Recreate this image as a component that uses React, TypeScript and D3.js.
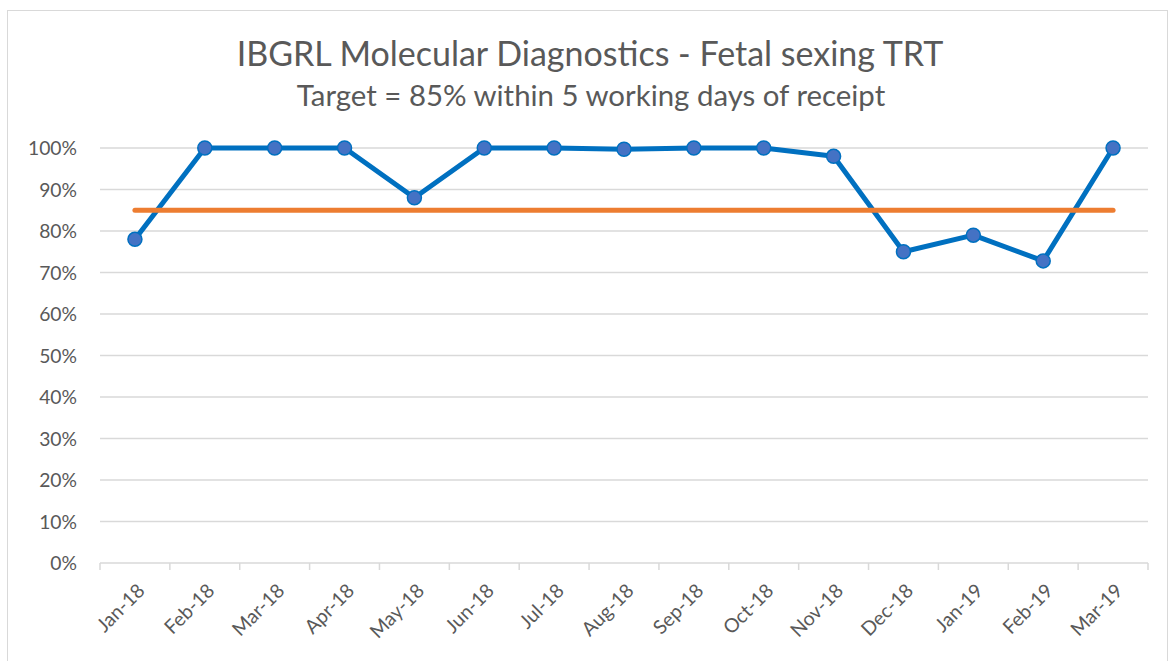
import React from "react";
import * as d3 from "d3";

const categories = ["Jan-18","Feb-18","Mar-18","Apr-18","May-18","Jun-18","Jul-18","Aug-18","Sep-18","Oct-18","Nov-18","Dec-18","Jan-19","Feb-19","Mar-19"];
const actual = [78, 100, 100, 100, 88, 100, 100, 99.7, 100, 100, 98, 75, 79, 72.8, 100];
const target = [85, 85, 85, 85, 85, 85, 85, 85, 85, 85, 85, 85, 85, 85, 85];
const yTicks = [0, 10, 20, 30, 40, 50, 60, 70, 80, 90, 100];

const W = 1170, H = 661;
const left = 100, right = 1148, top = 148, bottom = 563;
const font = "Lato, 'Open Sans', 'Liberation Sans', sans-serif";

export default function App() {
  const x = d3.scaleBand<string>().domain(categories).range([left, right]).paddingInner(0).paddingOuter(0);
  const y = d3.scaleLinear().domain([0, 100]).range([bottom, top]);
  const cx = (c: string) => (x(c) as number) + x.bandwidth() / 2;
  const line = d3.line<number>().x((_, i) => cx(categories[i])).y((d) => y(d));
  const tickXs = categories.map((c) => x(c) as number).concat([right]);

  return (
    <svg width={W} height={H} style={{ position: "absolute", left: 0, top: 0 }}>
      <rect x={0} y={0} width={W} height={H} fill="#fff" />
      <rect x={7.5} y={10.5} width={1160} height={660} fill="#fff" stroke="#d9d9d9" strokeWidth={1} />
      <text x={590} y={66} textAnchor="middle" fontFamily={font} fontSize={34} fill="#595959">IBGRL Molecular Diagnostics - Fetal sexing TRT</text>
      <text x={591} y={106} textAnchor="middle" fontFamily={font} fontSize={29.4} fill="#595959">Target = 85% within 5 working days of receipt</text>
      {yTicks.map((t) => (
        <g key={t}>
          {t > 0 && <line x1={left} x2={right} y1={y(t)} y2={y(t)} stroke="#d9d9d9" strokeWidth={1.3} />}
          <text x={77} y={y(t) + 7} textAnchor="end" fontFamily={font} fontSize={19.3} fill="#595959">{t}%</text>
        </g>
      ))}
      <line x1={left} x2={right} y1={bottom} y2={bottom} stroke="#d9d9d9" strokeWidth={1.5} />
      {tickXs.map((tx, i) => (
        <line key={i} x1={tx} x2={tx} y1={bottom} y2={bottom + 7} stroke="#d9d9d9" strokeWidth={1.5} />
      ))}
      {categories.map((c) => (
        <text key={c} transform={`translate(${cx(c) + 11},${bottom + 29}) rotate(-45)`} textAnchor="end" fontFamily={font} fontSize={19.5} fill="#595959">{c}</text>
      ))}
      <path d={line(actual) || ""} fill="none" stroke="#0070C0" strokeWidth={5} strokeLinejoin="round" />
      <path d={line(target) || ""} fill="none" stroke="#ED7D31" strokeWidth={5} strokeLinecap="round" />
      {actual.map((v, i) => (
        <circle key={i} cx={cx(categories[i])} cy={y(v)} r={7} fill="#4472C4" stroke="#0070C0" strokeWidth={1.5} />
      ))}
    </svg>
  );
}
